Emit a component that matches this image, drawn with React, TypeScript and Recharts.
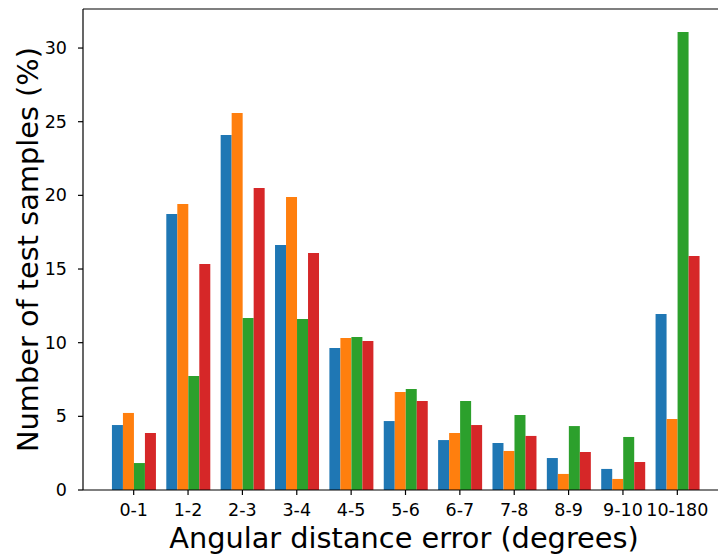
import { BarChart, Bar, XAxis, YAxis } from "recharts";

const CATEGORIES = ["0-1", "1-2", "2-3", "3-4", "4-5", "5-6", "6-7", "7-8", "8-9", "9-10", "10-180"];
const SERIES_A = [4.41, 18.73, 24.1, 16.63, 9.64, 4.68, 3.39, 3.19, 2.17, 1.43, 11.95];
const SERIES_B = [5.23, 19.41, 25.59, 19.89, 10.32, 6.65, 3.87, 2.65, 1.09, 0.75, 4.82];
const SERIES_C = [1.83, 7.74, 11.67, 11.61, 10.38, 6.86, 6.04, 5.09, 4.34, 3.6, 31.09];
const SERIES_D = [3.87, 15.34, 20.5, 16.09, 10.11, 6.04, 4.41, 3.67, 2.58, 1.9, 15.88];
const Y_TICKS = [0, 5, 10, 15, 20, 25, 30];
const Y_MAX = 32.65;

const FONT = "DejaVu Sans";
const COLORS = ["#1f77b4", "#ff7f0e", "#2ca02c", "#d62728"];
const KEYS = ["a", "b", "c", "d"];

const data = CATEGORIES.map((c, i) => ({
  cat: c,
  a: SERIES_A[i],
  b: SERIES_B[i],
  c: SERIES_C[i],
  d: SERIES_D[i],
}));

function XTick(props: any) {
  const { x, y, payload } = props;
  return (
    <text x={x} y={y} dy={21} textAnchor="middle" fontFamily={FONT} fontSize={17.5} fill="#000">
      {payload.value}
    </text>
  );
}

function YTick(props: any) {
  const { x, y, payload } = props;
  return (
    <text x={x} y={y} dx={-11} dy={6} textAnchor="end" fontFamily={FONT} fontSize={17.5} fill="#000">
      {payload.value}
    </text>
  );
}

export default function App() {
  return (
    <div
      style={{
        position: "absolute",
        left: 0,
        top: 0,
        width: 718,
        height: 557,
        overflow: "hidden",
        background: "#fff",
      }}
    >
      <BarChart
        width={718}
        height={557}
        data={data}
        margin={{ top: 8, right: -10, left: 0, bottom: 0 }}
        barCategoryGap="10%"
        barGap={0}
      >
        <XAxis
          dataKey="cat"
          height={67}
          padding={{ left: 23.5, right: 23.5 }}
          tick={<XTick />}
          tickSize={5}
          tickMargin={0}
          interval={0}
          stroke="#000"
          axisLine={{ stroke: "#000", strokeWidth: 1.2 }}
          tickLine={{ stroke: "#000", strokeWidth: 1.2 }}
          label={{
            content: () => (
              <text x={404} y={548} textAnchor="middle" fontFamily={FONT} fontSize={28.8} fill="#000">
                Angular distance error (degrees)
              </text>
            ),
          }}
        />
        <XAxis
          xAxisId="top"
          orientation="top"
          dataKey="cat"
          height={1}
          tick={false}
          tickSize={0}
          tickLine={false}
          stroke="#000"
          axisLine={{ stroke: "#000", strokeWidth: 1.2 }}
        />
        <YAxis
          width={83}
          domain={[0, Y_MAX]}
          ticks={Y_TICKS}
          allowDataOverflow
          tick={<YTick />}
          tickSize={5}
          tickMargin={0}
          stroke="#000"
          axisLine={{ stroke: "#000", strokeWidth: 1.2 }}
          tickLine={{ stroke: "#000", strokeWidth: 1.2 }}
          label={{
            content: () => (
              <text
                x={38}
                y={249.5}
                transform="rotate(-90 38 249.5)"
                textAnchor="middle"
                fontFamily={FONT}
                fontSize={28.8}
                fill="#000"
              >
                Number of test samples (%)
              </text>
            ),
          }}
        />
        {KEYS.map((k, i) => (
          <Bar key={k} dataKey={k} fill={COLORS[i]} isAnimationActive={false} />
        ))}
      </BarChart>
    </div>
  );
}
